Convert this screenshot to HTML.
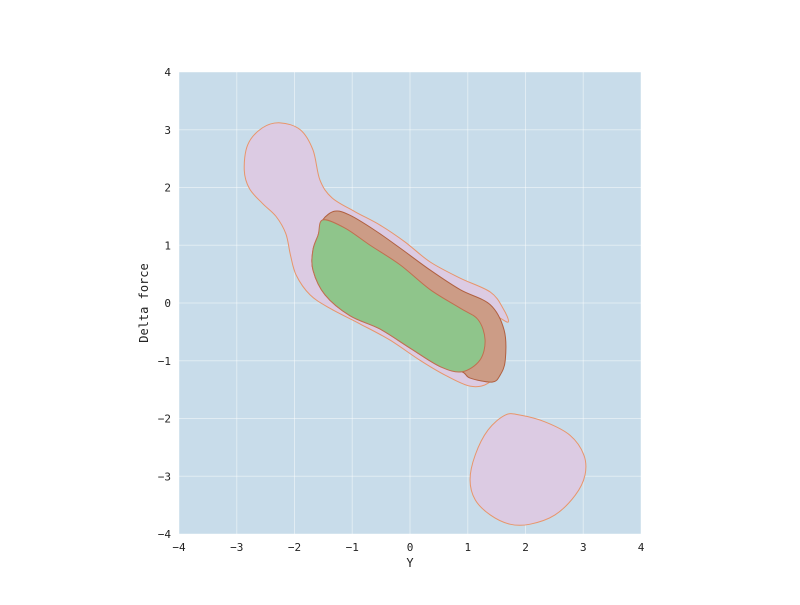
<!DOCTYPE html>
<html><head><meta charset="utf-8"><style>
body{margin:0;background:#fff}
svg text{font-family:"DejaVu Sans Mono","Liberation Mono",monospace;fill:#222}
</style></head><body>
<svg id="chart" width="800" height="600">
<rect x="179" y="72" width="462" height="462" fill="#c8dcea"/>
<g id="grid"></g>
<g id="shapes"></g>
<g id="ticks"></g>
<text x="410" y="567" font-size="12" text-anchor="middle">Y</text>
<text x="148" y="303" font-size="12" text-anchor="middle" transform="rotate(-90 148 303)">Delta force</text>
</svg>
<script>
const xTicks=[-4,-3,-2,-1,0,1,2,3,4];
const yTicks=[-4,-3,-2,-1,0,1,2,3,4];
const pinkMain=[[-2.25,3.12],[-1.90,3.0],[-1.68,2.65],[-1.56,2.13],[-1.35,1.82],[-0.95,1.58],[-0.52,1.35],[-0.09,1.06],[0.35,0.71],[0.87,0.43],[1.39,0.19],[1.61,-0.09],[1.70,-0.33],[1.47,-0.24],[1.58,-0.64],[1.50,-1.16],[1.35,-1.39],[1.04,-1.44],[0.61,-1.25],[0.17,-0.99],[-0.35,-0.64],[-0.87,-0.36],[-1.39,-0.09],[-1.73,0.14],[-1.97,0.48],[-2.07,0.83],[-2.15,1.2],[-2.32,1.5],[-2.55,1.72],[-2.78,1.98],[-2.87,2.30],[-2.81,2.74],[-2.56,3.03]];
const pinkBlob=[[1.65,-1.94],[1.90,-1.94],[2.34,-2.06],[2.77,-2.29],[3.01,-2.63],[3.03,-2.98],[2.86,-3.33],[2.51,-3.67],[2.08,-3.83],[1.73,-3.83],[1.39,-3.67],[1.13,-3.41],[1.04,-3.06],[1.13,-2.63],[1.35,-2.20]];
const brown=[[-1.30,1.59],[-1.04,1.52],[-0.61,1.26],[-0.17,0.95],[0.35,0.57],[0.87,0.23],[1.39,-0.03],[1.63,-0.47],[1.65,-0.99],[1.56,-1.25],[1.42,-1.37],[1.04,-1.30],[0.90,-1.19],[0.52,-1.10],[0,-0.78],[-0.52,-0.45],[-1.04,-0.22],[-1.47,0.14],[-1.68,0.57],[-1.68,0.92],[-1.59,1.18],[-1.51,1.44]];
const green=[[-1.51,1.44],[-1.13,1.30],[-0.69,1.0],[-0.17,0.66],[0.35,0.23],[0.87,-0.09],[1.18,-0.29],[1.30,-0.64],[1.21,-0.99],[0.90,-1.19],[0.52,-1.10],[0,-0.78],[-0.52,-0.45],[-1.04,-0.22],[-1.47,0.14],[-1.68,0.57],[-1.68,0.92],[-1.59,1.18]];
const X=v=>410+v*57.75, Y=v=>303-v*57.75;
const NS='http://www.w3.org/2000/svg';
function mk(t,a,p){const e=document.createElementNS(NS,t);for(const k in a)e.setAttribute(k,a[k]);p.appendChild(e);return e;}
const grid=document.getElementById('grid'),ticks=document.getElementById('ticks'),shapes=document.getElementById('shapes');
xTicks.forEach(v=>{
 const l=mk('line',{x1:X(v),x2:X(v),y1:72,y2:534,stroke:'#fff','stroke-opacity':0.45},grid);
 
 
 const t=mk('text',{x:X(v),y:551,'font-size':11,'text-anchor':'middle'},ticks);
 t.textContent=v<0?'\u2212'+(-v):v;
 
 
});
yTicks.forEach(v=>{
 const l=mk('line',{y1:Y(v),y2:Y(v),x1:179,x2:641,stroke:'#fff','stroke-opacity':0.45},grid);
 
 
 const t=mk('text',{x:171,y:Y(v)+4,'font-size':11,'text-anchor':'end'},ticks);
 t.textContent=v<0?'\u2212'+(-v):v;
 
 
});
function smooth(pts){
 const p=pts.map(q=>[X(q[0]),Y(q[1])]);const n=p.length;let d='M'+p[0][0]+','+p[0][1];
 for(let i=0;i<n;i++){const p0=p[(i-1+n)%n],p1=p[i],p2=p[(i+1)%n],p3=p[(i+2)%n];
  d+=`C${p1[0]+(p2[0]-p0[0])/6},${p1[1]+(p2[1]-p0[1])/6} ${p2[0]-(p3[0]-p1[0])/6},${p2[1]-(p3[1]-p1[1])/6} ${p2[0]},${p2[1]}`;}
 return d+'Z';
}
[[pinkMain,'#dccbe3','#e8956a','pink-region-main'],[pinkBlob,'#dccbe3','#e8956a','pink-region-lower'],[brown,'#cc9c86','#b06040','brown-region'],[green,'#8fc58b','#c07050','green-region']].forEach(s=>{
 const e=mk('path',{d:smooth(s[0]),fill:s[1],stroke:s[2],'stroke-width':1},shapes);
 
 
});
</script>
</body></html>
